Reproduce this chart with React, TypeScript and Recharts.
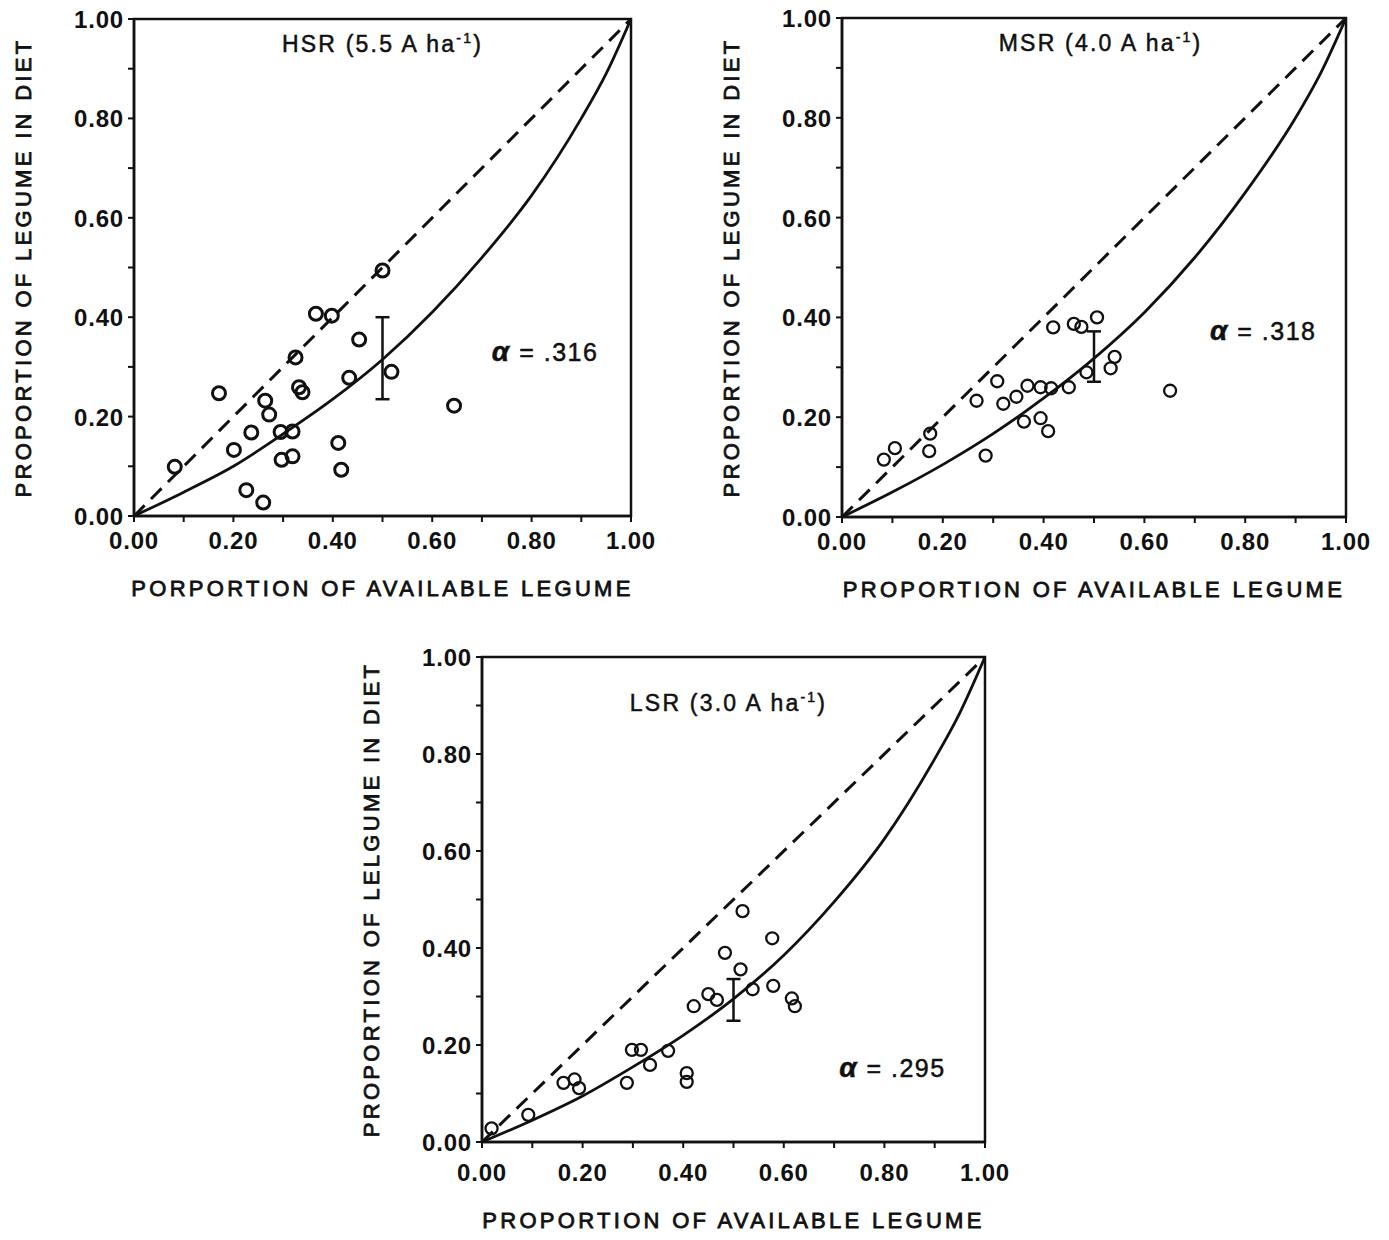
import React from 'react';
import { ComposedChart, XAxis, YAxis, Line, Scatter, ErrorBar, ReferenceArea, ReferenceDot } from 'recharts';

// ---------- shared axis data ----------
const axisTicks = [0, 0.1, 0.2, 0.3, 0.4, 0.5, 0.6, 0.7, 0.8, 0.9, 1.0];
const diagonalX = [0, 1];
const diagonalY = [0, 1];
const curveX = [0, 0.1, 0.2, 0.3, 0.4, 0.5, 0.6, 0.7, 0.8, 0.9, 0.95, 1.0];

// ---------- HSR ----------
const hsrCurveY = [0, 0.048, 0.1, 0.165, 0.235, 0.315, 0.41, 0.52, 0.645, 0.8, 0.89, 1.0];
const hsrAvailable = [0.50, 0.366, 0.398, 0.453, 0.325, 0.518, 0.433, 0.171, 0.332, 0.339, 0.264, 0.272, 0.644, 0.236, 0.295, 0.319, 0.201, 0.411, 0.297, 0.319, 0.417, 0.082, 0.226, 0.26];
const hsrDiet = [0.494, 0.407, 0.403, 0.355, 0.319, 0.29, 0.278, 0.247, 0.259, 0.249, 0.232, 0.204, 0.222, 0.168, 0.169, 0.17, 0.133, 0.147, 0.113, 0.12, 0.093, 0.099, 0.052, 0.027];
const hsrError = { x: 0.5, y: 0.316, low: 0.235, high: 0.4 };

// ---------- MSR ----------
const msrCurveY = [0, 0.05, 0.105, 0.167, 0.238, 0.318, 0.41, 0.52, 0.65, 0.8, 0.89, 1.0];
const msrAvailable = [0.083, 0.105, 0.175, 0.173, 0.285, 0.267, 0.308, 0.32, 0.346, 0.368, 0.361, 0.394, 0.394, 0.409, 0.415, 0.419, 0.45, 0.46, 0.475, 0.485, 0.506, 0.541, 0.533, 0.651];
const msrDiet = [0.115, 0.138, 0.167, 0.132, 0.123, 0.233, 0.272, 0.227, 0.241, 0.263, 0.191, 0.26, 0.198, 0.172, 0.258, 0.38, 0.26, 0.387, 0.381, 0.29, 0.4, 0.321, 0.298, 0.253];
const msrError = { x: 0.5, y: 0.318, low: 0.271, high: 0.372 };

// ---------- LSR ----------
const lsrCurveY = [0, 0.045, 0.095, 0.155, 0.22, 0.295, 0.385, 0.495, 0.625, 0.79, 0.885, 1.0];
const lsrAvailable = [0.518, 0.577, 0.483, 0.514, 0.538, 0.579, 0.45, 0.467, 0.421, 0.616, 0.622, 0.298, 0.316, 0.37, 0.334, 0.288, 0.407, 0.407, 0.162, 0.184, 0.193, 0.092, 0.019];
const lsrDiet = [0.476, 0.42, 0.39, 0.356, 0.315, 0.322, 0.305, 0.293, 0.28, 0.296, 0.28, 0.19, 0.19, 0.188, 0.159, 0.122, 0.142, 0.124, 0.122, 0.129, 0.111, 0.056, 0.028];
const lsrError = { x: 0.5, y: 0.295, low: 0.25, high: 0.336 };

// ---------- text ----------
const yTitles = ['PROPORTION OF LEGUME IN DIET', 'PROPORTION OF LEGUME IN DIET', 'PROPORTION OF LELGUME IN DIET'];
const xTitles = ['PORPORTION OF AVAILABLE LEGUME', 'PROPORTION OF AVAILABLE LEGUME', 'PROPORTION OF AVAILABLE LEGUME'];
const panelTitles = ['HSR (5.5 A ha', 'MSR (4.0 A ha', 'LSR (3.0 A ha'];
const alphaValues = ['.316', '.318', '.295'];

const INK = '#111';
const FONT = '"Liberation Sans", Arial, Helvetica, sans-serif';

const zip = (xs: number[], ys: number[]) => xs.map((x, i) => ({ x, y: ys[i] }));

type PanelProps = {
  plotLeft: number; plotTop: number; plotW: number; plotH: number;
  curveY: number[]; avail: number[]; diet: number[];
  err: { x: number; y: number; low: number; high: number };
  idx: number; titlePos: [number, number]; alphaPos: [number, number];
  xTickDy: number; xTitleDy: number; dotR: number; dotSW: number;
};

const YAXIS_W = 130;
const XAXIS_H = 100;
const M_TOP = 20;
const M_RIGHT = 30;

function Panel(props: PanelProps) {
  const { plotLeft, plotTop, plotW, plotH, curveY, avail, diet, err, idx, titlePos, alphaPos, xTickDy, xTitleDy, dotR, dotSW } = props;
  const width = YAXIS_W + plotW + M_RIGHT;
  const height = M_TOP + plotH + XAXIS_H;
  const curve = zip(curveX, curveY);
  const diag = zip(diagonalX, diagonalY);
  const pts = zip(avail, diet);
  const errData = [{ x: err.x, y: err.y, e: [err.y - err.low, err.high - err.y] }];

  const YTick = (p: any) => {
    const v = p.payload.value;
    const show = Math.round(v * 10) % 2 === 0;
    if (!show) return <g />;
    return (
      <text x={p.x} y={p.y} dy={9} textAnchor="end" fontFamily={FONT} fontSize={24} fontWeight={700} letterSpacing={0.8} fill={INK}>
        {v.toFixed(2)}
      </text>
    );
  };
  const XTick = (p: any) => {
    const v = p.payload.value;
    const show = Math.round(v * 10) % 2 === 0;
    if (!show) return <g />;
    return (
      <text x={p.x} y={p.y + xTickDy} textAnchor="middle" fontFamily={FONT} fontSize={24} fontWeight={700} letterSpacing={0.8} fill={INK}>
        {v.toFixed(2)}
      </text>
    );
  };

  const xTitle = (lp: any) => {
    const vb = lp.viewBox;
    return (
      <text x={vb.x + vb.width / 2} y={vb.y + xTitleDy} textAnchor="middle" fontFamily={FONT} fontSize={22} fontWeight={400} letterSpacing={3.3} fill={INK} stroke={INK} strokeWidth={0.8}>
        {xTitles[idx]}
      </text>
    );
  };
  const yTitle = (lp: any) => {
    const vb = lp.viewBox;
    const cx = vb.x + vb.width - 111;
    const cy = vb.y + vb.height / 2;
    return (
      <text x={cx} y={cy} transform={`rotate(-90 ${cx} ${cy})`} textAnchor="middle" dominantBaseline="central" fontFamily={FONT} fontSize={22} fontWeight={400} letterSpacing={3.3} fill={INK} stroke={INK} strokeWidth={0.8}>
        {yTitles[idx]}
      </text>
    );
  };

  const titleLabel = (lp: any) => {
    const vb = lp.viewBox;
    const cx = vb.x + vb.width / 2;
    const cy = vb.y + vb.height / 2;
    return (
      <text x={cx} y={cy + 8} textAnchor="middle" fontFamily={FONT} fontSize={23} fill={INK} stroke={INK} strokeWidth={0.5} letterSpacing={2.2}>
        {panelTitles[idx]}
        <tspan dy={-9} fontSize={14}>-1</tspan>
        <tspan dy={9}>)</tspan>
      </text>
    );
  };
  const alphaLabel = (lp: any) => {
    const vb = lp.viewBox;
    const cx = vb.x + vb.width / 2;
    const cy = vb.y + vb.height / 2;
    return (
      <text x={cx} y={cy + 9} textAnchor="start" fontFamily={FONT} fontSize={25} fill={INK} stroke={INK} strokeWidth={0.5} letterSpacing={1.5}>
        <tspan fontStyle="italic" fontWeight={700} fontSize={28}>α</tspan>
        <tspan> = {alphaValues[idx]}</tspan>
      </text>
    );
  };

  const dotShape = (p: any) => (
    <circle cx={p.cx} cy={p.cy} r={dotR} fill="none" stroke={INK} strokeWidth={dotSW} />
  );

  return (
    <div style={{ position: 'absolute', left: plotLeft - YAXIS_W, top: plotTop - M_TOP }}>
      <ComposedChart width={width} height={height} margin={{ top: M_TOP, right: M_RIGHT, left: 0, bottom: 0 }}>
        <XAxis
          type="number" dataKey="x" domain={[0, 1]} ticks={axisTicks} interval={0}
          height={XAXIS_H} tickSize={6} tickMargin={2}
          axisLine={{ stroke: INK, strokeWidth: 2.5 }} tickLine={{ stroke: INK, strokeWidth: 2 }}
          tick={XTick} allowDataOverflow label={{ content: xTitle }}
        />
        <YAxis
          type="number" dataKey="y" domain={[0, 1]} ticks={axisTicks} interval={0}
          width={YAXIS_W} tickSize={6} tickMargin={4}
          axisLine={{ stroke: INK, strokeWidth: 2.5 }} tickLine={{ stroke: INK, strokeWidth: 2 }}
          tick={YTick} allowDataOverflow label={{ content: yTitle }}
        />
        <ReferenceArea x1={0} x2={1} y1={0} y2={1} fill="none" stroke={INK} strokeWidth={2.5} ifOverflow="visible" />
        <Line data={diag} dataKey="y" type="linear" stroke={INK} strokeWidth={3} strokeDasharray="15 9" dot={false} isAnimationActive={false} />
        <Line data={curve} dataKey="y" type="monotone" stroke={INK} strokeWidth={2.8} dot={false} isAnimationActive={false} />
        <Scatter data={pts} dataKey="y" shape={dotShape} isAnimationActive={false} />
        <Scatter data={errData} dataKey="y" shape={() => <g />} isAnimationActive={false}>
          <ErrorBar dataKey="e" direction="y" width={7} stroke={INK} strokeWidth={2.5} />
        </Scatter>
        <ReferenceDot x={titlePos[0]} y={titlePos[1]} r={1} fill="none" stroke="none" label={{ content: titleLabel }} />
        <ReferenceDot x={alphaPos[0]} y={alphaPos[1]} r={1} fill="none" stroke="none" label={{ content: alphaLabel }} />
      </ComposedChart>
    </div>
  );
}

export default function App() {
  return (
    <div style={{ position: 'absolute', left: 0, top: 0, width: 1389, height: 1240, background: '#fff', overflow: 'hidden' }}>
      <Panel plotLeft={134} plotTop={19} plotW={497} plotH={497} curveY={hsrCurveY} avail={hsrAvailable} diet={hsrDiet}
        err={hsrError} idx={0} titlePos={[0.5, 0.95]} alphaPos={[0.72, 0.33]} xTickDy={25} xTitleDy={80} dotR={6.5} dotSW={3} />
      <Panel plotLeft={842} plotTop={18} plotW={504} plotH={499} curveY={msrCurveY} avail={msrAvailable} diet={msrDiet}
        err={msrError} idx={1} titlePos={[0.513, 0.95]} alphaPos={[0.73, 0.373]} xTickDy={25} xTitleDy={80} dotR={6} dotSW={2.3} />
      <Panel plotLeft={482} plotTop={657} plotW={503} plotH={485} curveY={lsrCurveY} avail={lsrAvailable} diet={lsrDiet}
        err={lsrError} idx={2} titlePos={[0.49, 0.905]} alphaPos={[0.71, 0.153]} xTickDy={31} xTitleDy={86} dotR={6} dotSW={2.3} />
    </div>
  );
}
